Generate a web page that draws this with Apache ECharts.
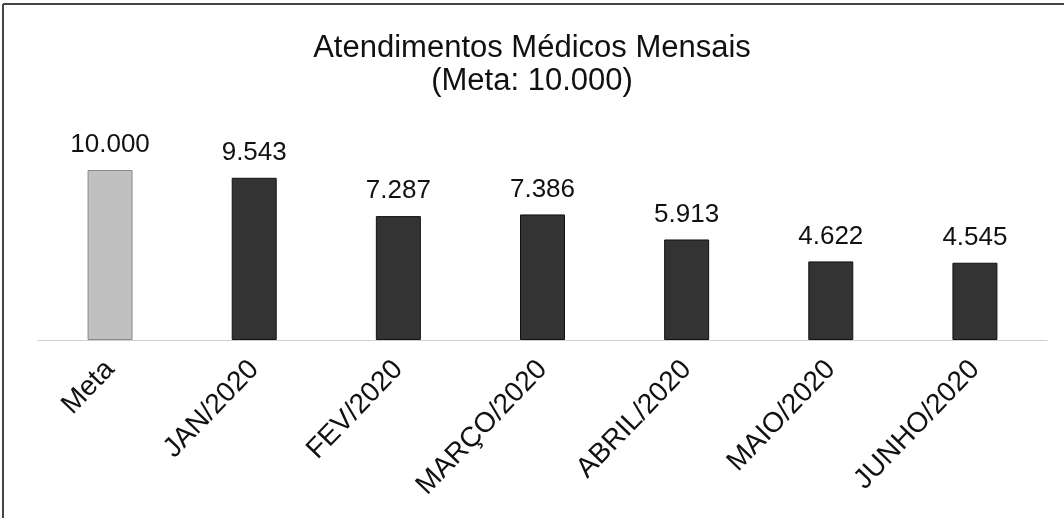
<!DOCTYPE html>
<html><head><meta charset="utf-8">
<script src="https://cdn.jsdelivr.net/npm/echarts@6/dist/echarts.min.js"></script>
<style>html,body{margin:0;padding:0;background:#fff}#c{width:1064px;height:518px}</style>
</head><body><div id="c"></div>
<script>
const categories = ['Meta', 'JAN/2020', 'FEV/2020', 'MARÇO/2020', 'ABRIL/2020', 'MAIO/2020', 'JUNHO/2020'];
const values = [10000, 9543, 7287, 7386, 5913, 4622, 4545];
const titleLines = ['Atendimentos Médicos Mensais', '(Meta: 10.000)'];

const fmt = v => String(v).replace(/\B(?=(\d{3})+(?!\d))/g, '.');
const font = '"Liberation Sans", Arial, sans-serif';
const chart = echarts.init(document.getElementById('c'), null, {renderer: 'canvas'});
chart.setOption({
  animation: false,
  backgroundColor: '#fff',
  title: {
    text: titleLines.join('\n'),
    left: 'center', top: 27,
    textStyle: {fontFamily: font, fontSize: 31, fontWeight: 'normal', color: '#111', lineHeight: 33}
  },
  grid: {left: 38, right: 17, top: 170, bottom: 178},
  xAxis: {
    type: 'category', data: categories,
    axisLine: {show: true, lineStyle: {color: '#c4c4c4', type: 'dotted', width: 1}},
    axisTick: {show: false},
    axisLabel: {rotate: 46, margin: 25, fontFamily: font, fontSize: 28, color: '#111'}
  },
  yAxis: {type: 'value', min: 0, max: 10000, show: false, splitLine: {show: false}},
  graphic: [
    {type: 'line', shape: {x1: 3, y1: 4, x2: 1064, y2: 4}, style: {stroke: '#444', lineWidth: 2}},
    {type: 'line', shape: {x1: 3, y1: 4, x2: 3, y2: 518}, style: {stroke: '#444', lineWidth: 2}}
  ],
  series: [{
    type: 'bar', data: values.map((v, i) => ({
      value: v,
      itemStyle: i === 0 ? {color: '#c0c0c0', borderColor: '#8a8a8a', borderWidth: 1}
                         : {color: '#333333', borderColor: '#111', borderWidth: 1}
    })),
    barWidth: 45,
    label: {show: true, position: 'top', distance: 12, fontFamily: font, fontSize: 26, color: '#111',
            formatter: p => fmt(p.value)}
  }]
});
</script></body></html>
